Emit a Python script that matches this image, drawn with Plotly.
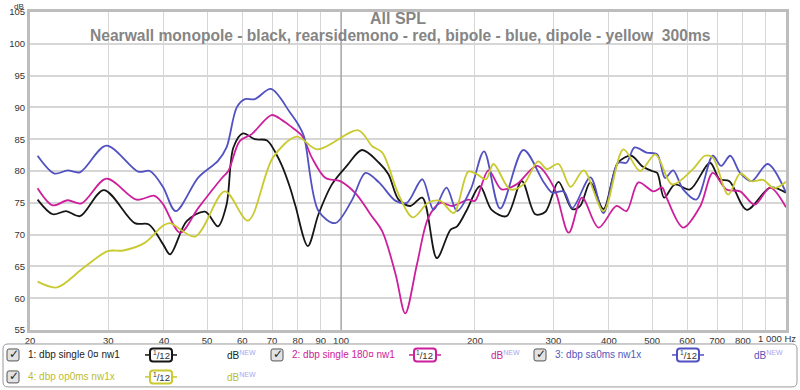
import math
import plotly.graph_objects as go

# ---------------- data ----------------
title_main = "All SPL"
title_sub = "Nearwall monopole - black, rearsidemono - red, bipole - blue, dipole - yellow  300ms"

x_tick_vals = [20, 30, 40, 50, 60, 70, 80, 90, 100, 200, 300, 400, 500, 600, 700, 800, 900, 1000]
x_tick_text = ["20", "30", "40", "50", "60", "70", "80", "90", "100", "200", "300", "400",
               "500", "600", "700", "800", "", ""]
x_last_label = "1 000 Hz"
y_tick_vals = [55, 60, 65, 70, 75, 80, 85, 90, 95, 100, 105]
y_unit = "dB"

series_names = ["1: dbp single 0\u00a4 nw1", "2: dbp single 180\u00a4 nw1",
                "3: dbp sa0ms nw1x", "4: dbp op0ms nw1x"]
series_colors = ["#161616", "#cc1f9c", "#5151c2", "#c9c930"]
legend_text_colors = ["#222222", "#cc2299", "#5555bb", "#bcbc30"]
smoothing_label = "<sup>1</sup>/12"

black_freq = [20.8, 22.5, 24.1, 25.9, 29.3, 34.4, 37.0, 39.8, 41.3, 45.0, 49.5, 52.9, 55.3, 57.3,
              60.2, 64.0, 68.2, 71.6, 73.7, 76.8, 79.0, 84.2, 89.0, 95.4, 103.0, 111.5, 121.7,
              127.8, 134.7, 143.1, 152.3, 164.2, 176.3, 182.3, 191.2, 205.2, 218.0, 235.5, 254.8,
              273.2, 288.0, 308.1, 331.0, 344.8, 363.4, 388.8, 419.2, 449.2, 474.4, 500, 513.5,
              532.4, 562.7, 608.7, 674.7, 709.4, 746.1, 816.4, 921.3, 1000]
black_db = [75.5, 73.2, 73.7, 72.9, 77.0, 71.8, 71.6, 68.5, 66.9, 72.1, 73.6, 71.3, 74.7, 83.7,
            85.9, 85.0, 84.8, 82.6, 80.8, 77.4, 74.5, 68.2, 73.2, 77.9, 80.8, 83.3, 81.3,
            79.5, 75.5, 74.5, 75.8, 66.3, 70.8, 71.3, 73.7, 77.6, 73.9, 72.9, 78.4,
            73.2, 73.6, 78.3, 74.0, 74.5, 78.2, 74.0, 81.3, 82.4, 80.8, 80.0, 79.7,
            75.8, 77.9, 77.1, 81.3, 78.7, 78.4, 73.9, 77.4, 76.6]

magenta_freq = [20.8, 22.5, 24.3, 26.1, 29.7, 34.7, 38.1, 39.8, 43.5, 47.8, 54.0, 55.8, 59.2,
                63.0, 69.8, 73.7, 76.8, 81.8, 86.0, 92.3, 99.6, 108.4, 116.4, 123.8, 132.7,
                139.4, 148.1, 157.0, 167.2, 177.7, 193.2, 200, 214.5, 229.6, 248.0, 276.0,
                301, 324.9, 348, 379.1, 416, 438, 466, 503.9, 526.8, 539, 587, 642.1, 684.8,
                734.8, 788.6, 850.6, 921, 1000]
magenta_db = [77.3, 74.6, 75.4, 74.9, 78.8, 75.5, 76.1, 74.8, 70.3, 74.2, 78.9, 80.0, 84.7,
              85.8, 88.8, 88.0, 87.1, 85.5, 82.1, 78.9, 78.4, 76.3, 73.2, 70.5, 63.7,
              57.6, 65.3, 72.6, 75.0, 74.5, 75.5, 75.3, 80.1, 77.1, 77.9, 80.8,
              77.4, 70.3, 75.8, 71.1, 74.5, 73.7, 78.2, 76.8, 77.4, 75.8, 71.1, 74.5, 79.7,
              77.1, 76.8, 74.7, 77.4, 74.3]

blue_freq = [20.8, 22.7, 24.3, 25.9, 29.7, 35.0, 37.2, 39.8, 42.5, 47.8, 52.9, 55.3, 58.3, 60.8,
             64.0, 69.6, 76.8, 80.0, 82.5, 89.0, 97.0, 105.6, 113.5, 121.7, 132.7, 140.6,
             152.3, 161.4, 172.6, 182.3, 195.6, 209.6, 227.8, 257.0, 285.7, 298.5, 316.4,
             331.0, 363.4, 388.8, 419.2, 438, 456.8, 485.8, 513.5, 534.9, 557.6, 587.3,
             628.7, 684.8, 715.2, 749.5, 788.6, 836.8, 909.9, 1000]
blue_db = [82.4, 79.6, 80.1, 79.8, 84.0, 79.9, 80.0, 77.5, 73.7, 79.0, 81.6, 83.7, 90.0, 91.3,
           91.3, 92.9, 89.2, 87.4, 85.5, 73.7, 71.8, 75.3, 79.7, 78.2, 75.3, 75.0,
           78.7, 73.9, 77.4, 73.7, 77.1, 83.1, 74.1, 83.3, 78.2, 76.6, 76.8,
           74.2, 79.0, 73.4, 81.3, 81.3, 83.7, 82.9, 82.6, 78.9, 80.1, 77.1,
           75.5, 82.4, 80.8, 82.4, 79.7, 78.4, 81.1, 76.6]

yellow_freq = [20.8, 23.0, 26.3, 29.9, 32.4, 36.2, 39.8, 41.3, 47.0, 54.8, 61.8, 70.3, 79.5,
               88.5, 109.4, 117.5, 123.8, 134.7, 145, 157, 167.2, 179.2, 193.2, 201.8, 211.8,
               220.1, 240, 257, 277.4, 290, 308.1, 328, 351, 388.8, 431.1, 469.8, 508.7,
               554.5, 617.9, 657.3, 684.8, 741.7, 788.6, 836.8, 887.9, 940.2, 1000]
yellow_db = [62.6, 61.7, 64.7, 67.4, 67.5, 68.7, 71.4, 71.8, 69.7, 76.8, 72.2, 82.1, 85.4,
             83.4, 86.4, 83.9, 82.9, 76.3, 72.7, 75.0, 75.3, 73.4, 79.9, 79.5, 78.7,
             81.1, 77.1, 77.9, 81.5, 80.3, 81.1, 77.5, 80.1, 73.7, 83.4, 80.0, 82.6,
             77.9, 80.3, 82.4, 82.1, 76.3, 79.6, 78.4, 78.6, 77.3, 78.3]

series_freqs = [black_freq, magenta_freq, blue_freq, yellow_freq]
series_dbs = [black_db, magenta_db, blue_db, yellow_db]

# ---------------- layout helpers (pixel -> paper) ----------------
W, H = 800, 390
PL, PR, PT, PB = 30, 786, 11.5, 330
FONT = "Liberation Sans, Arial, sans-serif"


def X(px):
    return (px - PL) / (PR - PL)


def Y(py):
    return (PB - py) / (PB - PT)


def rrect_path(x0, y0, x1, y1, r):
    return (f"M {X(x0 + r)},{Y(y0)} L {X(x1 - r)},{Y(y0)} Q {X(x1)},{Y(y0)} {X(x1)},{Y(y0 + r)} "
            f"L {X(x1)},{Y(y1 - r)} Q {X(x1)},{Y(y1)} {X(x1 - r)},{Y(y1)} "
            f"L {X(x0 + r)},{Y(y1)} Q {X(x0)},{Y(y1)} {X(x0)},{Y(y1 - r)} "
            f"L {X(x0)},{Y(y0 + r)} Q {X(x0)},{Y(y0)} {X(x0 + r)},{Y(y0)} Z")


fig = go.Figure()

# darker 100 Hz grid line
fig.add_trace(go.Scatter(x=[100, 100], y=[55, 105], mode="lines",
                         line=dict(color="#8c8c8c", width=1), hoverinfo="skip", showlegend=False))

for f, d, c, n in zip(series_freqs, series_dbs, series_colors, series_names):
    fig.add_trace(go.Scatter(x=f, y=d, mode="lines", name=n,
                             line=dict(color=c, width=1.8, shape="spline", smoothing=0.9),
                             showlegend=False))

shapes = []
annotations = []

# titles
annotations.append(dict(xref="paper", yref="paper", x=X(398), y=Y(18), text=f"<b>{title_main}</b>",
                        showarrow=False, xanchor="center", yanchor="middle",
                        font=dict(family=FONT, size=16, color="#858585")))
annotations.append(dict(xref="paper", yref="paper", x=X(400), y=Y(35), text=f"<b>{title_sub}</b>",
                        showarrow=False, xanchor="center", yanchor="middle",
                        font=dict(family=FONT, size=15.6, color="#858585")))
# axis unit labels
annotations.append(dict(xref="paper", yref="paper", x=X(25), y=Y(0), text=y_unit,
                        showarrow=False, xanchor="right", yanchor="top", borderpad=0,
                        font=dict(family=FONT, size=8, color="#333333")))
annotations.append(dict(xref="paper", yref="paper", x=X(798), y=Y(339), text=x_last_label,
                        showarrow=False, xanchor="right", yanchor="middle",
                        font=dict(family=FONT, size=9.5, color="#333333")))

# legend panel
shapes.append(dict(type="path", xref="paper", yref="paper", path=rrect_path(3, 344, 797, 387, 5),
                   line=dict(color="#9a9a9a", width=1), fillcolor="rgba(0,0,0,0)"))

legend_slots = [(7, 355), (271, 355), (534, 355), (7, 377)]
for i, (lx, ly) in enumerate(legend_slots):
    col = series_colors[i]
    tcol = legend_text_colors[i]
    # checkbox
    shapes.append(dict(type="path", xref="paper", yref="paper",
                       path=rrect_path(lx, ly - 6, lx + 12, ly + 6, 2),
                       line=dict(color="#555555", width=1), fillcolor="#e2e2e2"))
    annotations.append(dict(xref="paper", yref="paper", x=X(lx + 6.5), y=Y(ly - 0.5), text="<b>\u2713</b>",
                            showarrow=False, xanchor="center", yanchor="middle",
                            font=dict(family="DejaVu Sans", size=12, color="#222222")))
    # name
    annotations.append(dict(xref="paper", yref="paper", x=X(lx + 19), y=Y(ly), text=series_names[i],
                            showarrow=False, xanchor="left", yanchor="middle",
                            font=dict(family=FONT, size=10, color=tcol)))
    # smoothing icon
    ix = lx + 138
    shapes.append(dict(type="line", xref="paper", yref="paper", x0=X(ix), x1=X(ix + 32),
                       y0=Y(ly), y1=Y(ly), line=dict(color=col, width=1.5)))
    shapes.append(dict(type="path", xref="paper", yref="paper",
                       path=rrect_path(ix + 5, ly - 6.5, ix + 27, ly + 6.5, 3),
                       line=dict(color=col, width=2), fillcolor="white"))
    annotations.append(dict(xref="paper", yref="paper", x=X(ix + 16), y=Y(ly), text=smoothing_label,
                            showarrow=False, xanchor="center", yanchor="middle",
                            font=dict(family=FONT, size=9.5, color="#333333")))
    # dB NEW
    annotations.append(dict(xref="paper", yref="paper", x=X(lx + 218), y=Y(ly),
                            text=f"<span style='color:{tcol}'>dB</span><sup><span style='color:#a6a6f0'>NEW</span></sup>",
                            showarrow=False, xanchor="left", yanchor="middle",
                            font=dict(family=FONT, size=10, color=tcol)))

fig.update_layout(
    width=W, height=H,
    margin=dict(l=PL, r=W - PR, t=PT, b=H - PB, pad=0),
    paper_bgcolor="white", plot_bgcolor="white",
    showlegend=False,
    shapes=shapes, annotations=annotations,
    xaxis=dict(type="log", range=[math.log10(20), math.log10(1000)],
               tickvals=x_tick_vals, ticktext=x_tick_text,
               showgrid=True, gridcolor="#d6d6d6", gridwidth=1,
               showline=True, linecolor="#bdbdbd", linewidth=3, mirror=True,
               ticks="", zeroline=False, automargin=False,
               tickfont=dict(family=FONT, size=9.5, color="#333333")),
    yaxis=dict(range=[55, 105], tickvals=y_tick_vals,
               showgrid=True, gridcolor="#d6d6d6", gridwidth=1.5,
               showline=True, linecolor="#bdbdbd", linewidth=3, mirror=True,
               ticks="", zeroline=False, automargin=False,
               tickfont=dict(family=FONT, size=9.5, color="#333333")),
)

fig.write_html("out.html", config={"displayModeBar": False},
               post_script="document.body.style.margin='0';document.body.style.overflow='hidden';")
